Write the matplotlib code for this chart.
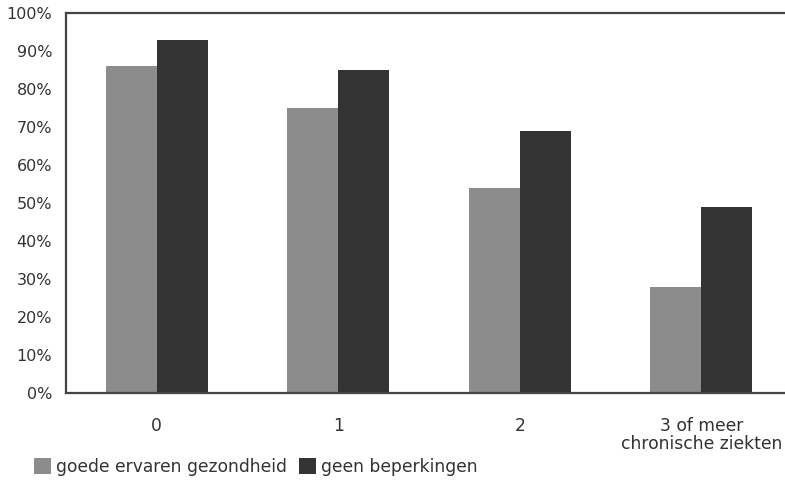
import matplotlib
matplotlib.use("Agg")
import matplotlib.pyplot as plt
import numpy as np

categories = ["0", "1", "2", "3 of meer\nchronische ziekten"]
goede_gezondheid = [86, 75, 54, 28]
geen_beperkingen = [93, 85, 69, 49]
series_labels = ["goede ervaren gezondheid", "geen beperkingen"]
yticks = list(range(0, 101, 10))

plt.rcParams['font.family'] = ['DejaVu Sans']

fig = plt.figure(figsize=(7.85, 4.8), dpi=100)
ax = fig.add_axes([66/785, 1-393/480, (792-66)/785, (393-13)/480])

x = np.arange(len(categories))
w = 0.28
c1, c2 = "#8c8c8c", "#333333"
b1 = ax.bar(x - w/2, goede_gezondheid, w, color=c1, label=series_labels[0])
b2 = ax.bar(x + w/2, geen_beperkingen, w, color=c2, label=series_labels[1])

ax.set_xlim(-0.5, 3.5)
ax.set_ylim(0, 100)
ax.set_yticks(yticks)
ax.set_yticklabels([f"{t}%" for t in yticks], fontsize=11.5, color="#333333")
ax.set_xticks(x)
ax.set_xticklabels(categories, fontsize=12.3, color="#333333", linespacing=1.05)
ax.tick_params(axis='both', length=0)
ax.tick_params(axis='y', pad=10)
ax.tick_params(axis='x', pad=17)
for s in ax.spines.values():
    s.set_linewidth(1.6)
    s.set_color("#444444")

fig.legend(handles=[b1, b2], labels=series_labels, loc="lower left",
           bbox_to_anchor=(24/785, -6/480), ncol=2, frameon=False,
           fontsize=12.3, handlelength=1.0, handleheight=1.1,
           handletextpad=0.3, columnspacing=0.7, borderaxespad=0.2,
           labelcolor="#333333")

fig.savefig("out.png", dpi=100)
